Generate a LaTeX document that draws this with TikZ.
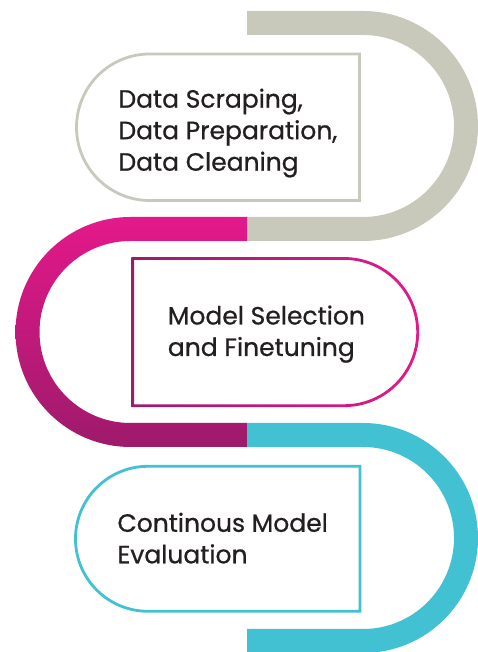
\documentclass[tikz,border=0pt]{standalone}
\usepackage{fontspec}
\newfontfamily\lblfont{Poppins}[FakeBold=0.7]
\definecolor{bandgrey}{RGB}{200,200,187}
\definecolor{bandpink}{RGB}{227,25,138}
\definecolor{bandpurple}{RGB}{158,26,107}
\definecolor{bandcyan}{RGB}{66,193,210}
\definecolor{txt}{RGB}{35,31,32}
\tikzset{
  lbl/.style={anchor=base west, inner sep=0pt, align=left, text=txt,
    font=\lblfont\fontsize{25}{31.5}\selectfont},
  boxline/.style={line width=2.8pt}
}
\begin{document}
\begin{tikzpicture}[x=1pt,y=1pt]
\useasboundingbox (0,0) rectangle (478,652);
\fill[white] (0,0) rectangle (478,652);
% grey band
\fill[bandgrey] (247,641) -- (363,641) arc[start angle=90,end angle=-90,radius=115]
  -- (247,411) -- (247,435) -- (363,435) arc[start angle=-90,end angle=90,radius=91]
  -- (247,617) -- cycle;
% magenta band
\shade[top color=bandpink, bottom color=bandpurple]
  (247,435) -- (130.5,435) arc[start angle=90,end angle=270,radius=115]
  -- (247,205) -- (247,229) -- (130.5,229) arc[start angle=270,end angle=90,radius=91]
  -- (247,411) -- cycle;
% cyan band
\fill[bandcyan] (247,229) -- (363,229) arc[start angle=90,end angle=-90,radius=115]
  -- (247,-1) -- (247,23) -- (363,23) arc[start angle=-90,end angle=90,radius=91]
  -- (247,205) -- cycle;
% box 1
\draw[boxline, draw=bandgrey] (359.5,598) -- (149.75,598)
  arc[start angle=90,end angle=270,radius=73.25] -- (359.5,451.5) -- cycle;
% box 2 (gradient border)
\shade[left color=bandpurple, right color=bandpink, even odd rule]
  (131.3,394.9) -- (344.1,394.9) arc[start angle=90,end angle=-90,radius=75]
  -- (131.3,244.9) -- cycle
  (134.1,392.1) -- (344.1,392.1) arc[start angle=90,end angle=-90,radius=72.2]
  -- (134.1,247.7) -- cycle;
% box 3
\draw[boxline, draw=bandcyan] (360,185.7) -- (148,185.7)
  arc[start angle=90,end angle=270,radius=72.5] -- (360,40.7) -- cycle;
% labels (anchor: baseline of last line)
\node[lbl] (t1) at (118.3,481.3) {Data Scraping,\\Data Preparation,\\Data Cleaning};
\node[lbl] (t2) at (167.7,296) {Model Selection\\and Finetuning};
\node[lbl] (t3) at (117.3,88.7) {Continous Model\\Evaluation};
\end{tikzpicture}
\end{document}
